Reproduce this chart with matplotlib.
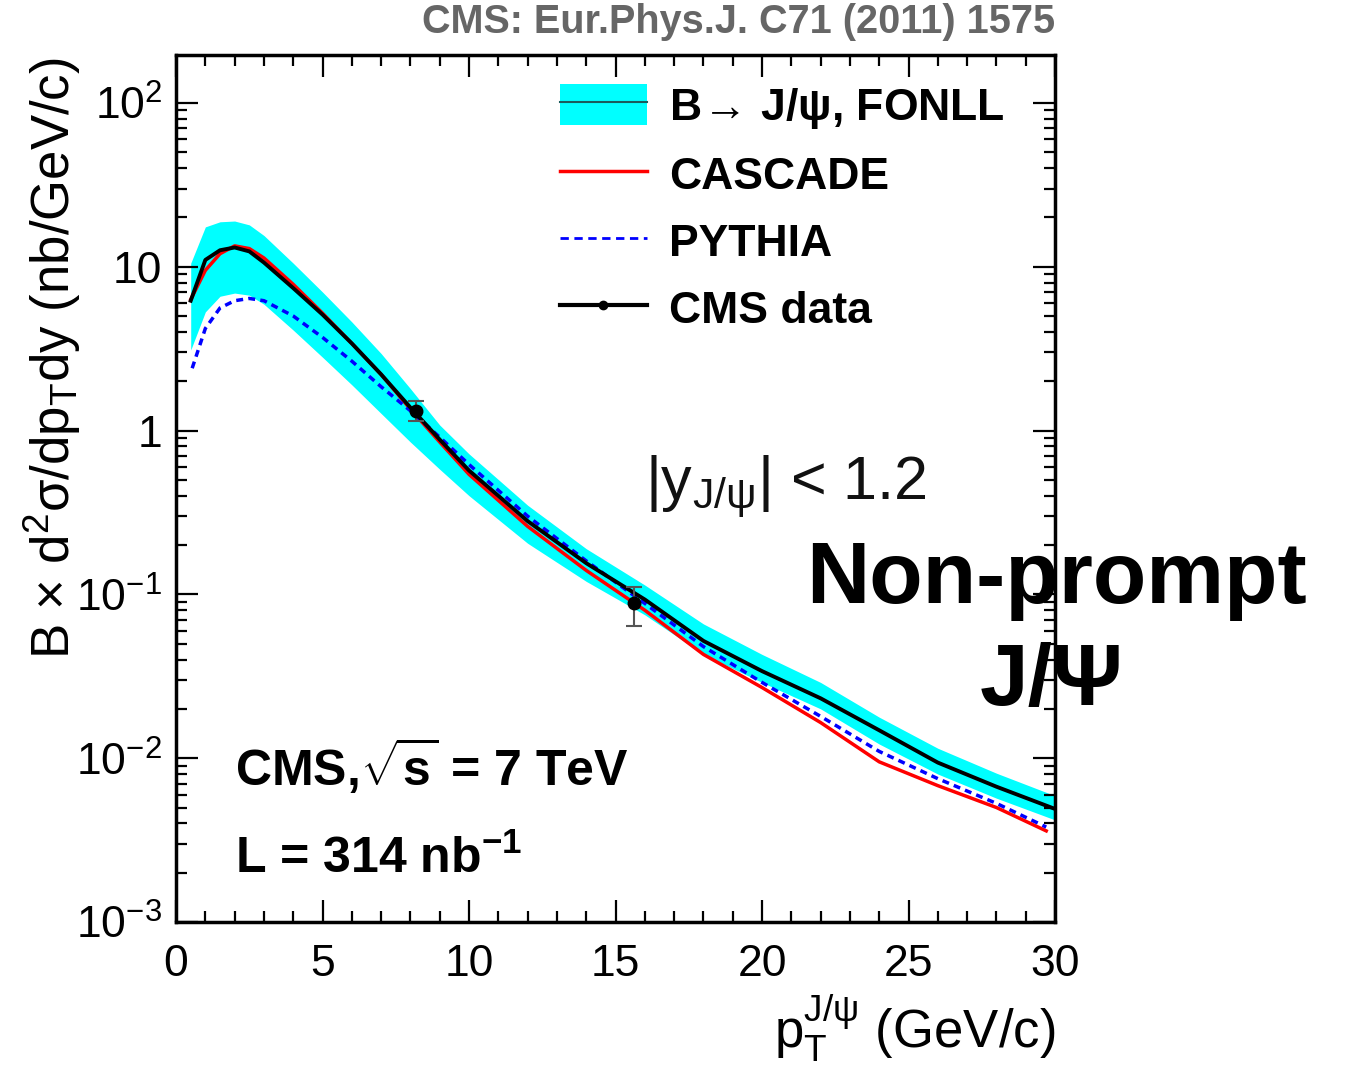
import matplotlib
matplotlib.use("Agg")
import matplotlib.pyplot as plt
from matplotlib.lines import Line2D
from matplotlib.patches import Patch
from matplotlib.ticker import FixedLocator, LogLocator, MultipleLocator, FuncFormatter

plt.rcParams['font.family'] = ['Liberation Sans', 'DejaVu Sans']
plt.rcParams['mathtext.fontset'] = 'custom'
plt.rcParams['mathtext.rm'] = 'Liberation Sans'
plt.rcParams['mathtext.it'] = 'Liberation Sans:italic'
plt.rcParams['mathtext.bf'] = 'Liberation Sans:bold'
plt.rcParams['axes.unicode_minus'] = False

# pT grid (GeV/c) and predictions, nb/GeV/c
pt = [0.5, 1.0, 1.5, 2.0, 2.5, 3.0, 4.0, 5.0, 6.0, 7.0, 8.0, 9.0, 10.0,
      12.0, 14.0, 16.0, 18.0, 20.0, 22.0, 24.0, 26.0, 28.0, 30.0]
fonll_central = [6.2, 11.0, 12.6, 13.1, 12.4, 10.6, 7.4, 5.1, 3.4, 2.2, 1.38, 0.88, 0.57,
                 0.28, 0.155, 0.093, 0.052, 0.034, 0.0232, 0.0148, 0.0094, 0.0067, 0.0049]
fonll_upper = [10.5, 17.5, 18.8, 19.0, 18.0, 15.5, 10.5, 7.0, 4.6, 2.95, 1.8, 1.08, 0.72,
               0.35, 0.19, 0.114, 0.066, 0.043, 0.029, 0.0178, 0.0115, 0.0081, 0.0059]
fonll_lower = [3.1, 5.3, 6.6, 6.9, 6.7, 5.9, 4.1, 2.8, 1.9, 1.27, 0.85, 0.58, 0.40,
               0.205, 0.12, 0.075, 0.043, 0.029, 0.02, 0.0122, 0.008, 0.0057, 0.0042]

pt_cascade = [0.5, 1.0, 1.5, 2.0, 2.5, 3.0, 4.0, 5.0, 6.0, 7.0, 8.0, 9.0, 10.0,
              12.0, 14.0, 16.0, 18.0, 20.0, 22.0, 24.0, 26.0, 28.0, 29.7]
cascade = [6.3, 9.5, 12.0, 13.4, 12.9, 11.3, 7.8, 5.2, 3.4, 2.2, 1.35, 0.85, 0.54,
           0.26, 0.14, 0.08, 0.043, 0.027, 0.0165, 0.0095, 0.0068, 0.0050, 0.0036]

pt_pythia = [0.55, 1.0, 1.5, 2.0, 2.5, 3.0, 4.0, 5.0, 6.0, 7.0, 8.0, 9.0, 10.0,
             12.0, 14.0, 16.0, 18.0, 20.0, 22.0, 24.0, 26.0, 28.0, 29.7]
pythia = [2.4, 4.2, 5.6, 6.2, 6.4, 6.2, 5.0, 3.7, 2.65, 1.85, 1.32, 0.91, 0.62,
          0.30, 0.16, 0.088, 0.048, 0.029, 0.018, 0.011, 0.0075, 0.0053, 0.0038]

# CMS measurements
data_pt = [8.18, 15.64]
data_val = [1.32, 0.088]
data_err_lo = [0.17, 0.024]
data_err_hi = [0.20, 0.023]

y_ticks = [1e-3, 1e-2, 1e-1, 1, 10, 100]
y_tick_labels = ['$10^{-3}$', '$10^{-2}$', '$10^{-1}$', '1', '10', '$10^{2}$']

fig = plt.figure(figsize=(13.45, 10.76), dpi=100)
ax = fig.add_axes([0.1309, 0.1431, 0.6535, 0.8058])

ax.fill_between(pt, fonll_lower, fonll_upper, color='#00ffff', lw=0, zorder=1)
ax.plot(pt_cascade, cascade, color='red', lw=2.5, zorder=3)
ax.plot(pt_pythia, pythia, color='blue', lw=2.5, ls=(0, (2, 1.5)), zorder=4)
ax.plot(pt, fonll_central, color='black', lw=2.8, zorder=5)
ax.errorbar(data_pt, data_val, yerr=[data_err_lo, data_err_hi], fmt='o', color='black',
            ms=9, ecolor='#555555', elinewidth=1.5, capsize=6, capthick=1.5, zorder=6)

ax.set_yscale('log')
ax.set_xlim(0, 30)
ax.set_ylim(1e-3, 196)

ax.xaxis.set_major_locator(MultipleLocator(5))
ax.xaxis.set_minor_locator(MultipleLocator(1))
ax.yaxis.set_major_locator(FixedLocator(y_ticks))
ax.yaxis.set_minor_locator(LogLocator(base=10, subs=range(2, 10)))
ax.yaxis.set_major_formatter(FuncFormatter(lambda v, p: y_tick_labels[y_ticks.index(v)] if v in y_ticks else ''))

ax.tick_params(which='both', direction='in', top=True, right=True, labelsize=32, width=1.6)
ax.tick_params(which='major', length=16)
ax.tick_params(which='minor', length=8)
ax.tick_params(axis='x', pad=16)
ax.tick_params(axis='y', pad=10)
for s in ax.spines.values():
    s.set_linewidth(2.5)

fig.text(1055 / 1345, 1 - 1048 / 1076, r'p$_{\rm T}^{\rm J/\psi}$ (GeV/c)', fontsize=38,
         ha='right', va='baseline')
fig.text(52 / 1345, 1 - 58 / 1076, r'B $\times$ d$^{2}$σ/dp$_{\rm T}$dy (nb/GeV/c)', fontsize=38,
         rotation=90, ha='center', va='top')

fig.text(1055 / 1345, 1 - 33 / 1076, 'CMS: Eur.Phys.J. C71 (2011) 1575', fontsize=28.5,
         fontweight='bold', color='#666666', ha='right', va='baseline',
         family=['Liberation Sans Narrow', 'Liberation Sans', 'DejaVu Sans'])

ax.text(0.534, 0.487, r'|y$_{\rm J/\psi}$| < 1.2', transform=ax.transAxes, fontsize=44,
        color='#111111', ha='left', va='baseline')
ax.text(0.067, 0.158, r'CMS,$\sqrt{\mathbf{s}}$ = 7 TeV', transform=ax.transAxes, fontsize=36,
        fontweight='bold', ha='left', va='baseline')
ax.text(0.067, 0.056, r'L = 314 nb$^{\mathbf{-1}}$', transform=ax.transAxes, fontsize=36,
        fontweight='bold', ha='left', va='baseline')

fig.text(1057 / 1345, 1 - 603 / 1076, 'Non-prompt', fontsize=63, fontweight='bold',
         ha='center', va='baseline', zorder=10)
fig.text(1052 / 1345, 1 - 705 / 1076, 'J/Ψ', fontsize=63, fontweight='bold',
         ha='center', va='baseline', zorder=10)

handles = [
    (Patch(facecolor='#00ffff', edgecolor='none'), Line2D([], [], color='#1a5c5c', lw=1.5)),
    Line2D([], [], color='red', lw=2.5),
    Line2D([], [], color='blue', lw=2, ls=(0, (3, 2))),
    Line2D([], [], color='black', lw=3, marker='o', ms=6),
]
labels = [r'B$\!\rightarrow\!$ J/ψ, FONLL', 'CASCADE', 'PYTHIA', 'CMS data']
leg = fig.legend(handles, labels, loc='upper left', bbox_to_anchor=(560 / 1345, 1 - 84 / 1076),
                 frameon=False, borderpad=0, borderaxespad=0, handlelength=1.95,
                 handleheight=1.05, handletextpad=0.5, labelspacing=0.5,
                 prop={'size': 32, 'weight': 'bold'})

fig.savefig('out.png', dpi=100)
